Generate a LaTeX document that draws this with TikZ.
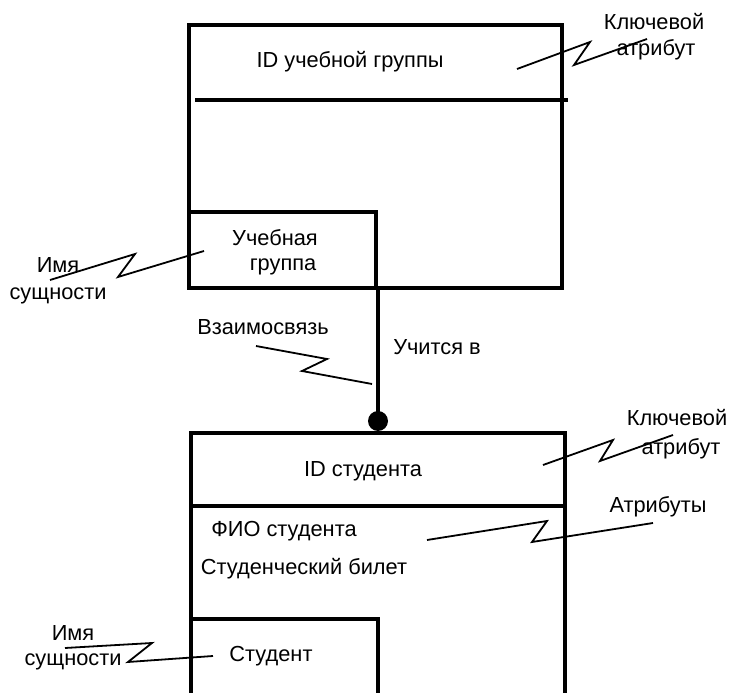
\documentclass[tikz,border=0pt]{standalone}
\usepackage{fontspec}
\setmainfont{Liberation Sans}
\begin{document}
\begin{tikzpicture}[x=1pt,y=-1pt,
  box/.style={line width=3.5pt},
  zig/.style={line width=1.8pt},
  lbl/.style={inner sep=0pt,font=\fontsize{21.8}{26}\selectfont},
  link/.style={line width=3.5pt}]
\useasboundingbox (0,0) rectangle (732,693);
% top entity
\draw[box] (189,25) rectangle (562,288);
\draw[box] (195,100) -- (568,100);
\draw[box] (189,212) -- (376,212) -- (376,288);
\node[lbl] (idg) at (350,62) {ID учебной группы};
\node[lbl] (g1) at (275,238) {Учебная};
\node[lbl] (g2) at (283,267) {группа};
% bottom entity
\draw[box] (191,700) -- (191,433) -- (565,433) -- (565,700);
\draw[box] (191,506) -- (565,506);
\draw[box] (191,619) -- (378,619) -- (378,700);
\node[lbl] (ids) at (363,471) {ID студента};
\node[lbl] (fio) at (284,531) {ФИО студента};
\node[lbl] (bil) at (304,569) {Студенческий билет};
\node[lbl] (st) at (271,656) {Студент};
% relationship
\coordinate (ctop) at (378,288);
\node[circle,fill=black,inner sep=0pt,minimum size=20pt] (dot) at (378,421) {};
\draw[link] (ctop) -- (dot.center);
\node[lbl] (rel) at (437,347) {Учится в};
% callouts
\node[lbl] (k1a) at (654,22) {Ключевой};
\node[lbl] (k1b) at (656,50) {атрибут};
\coordinate (z1) at (517,69);
\draw[zig] (z1) -- (590,42) -- (574,65) -- (647,39);
\node[lbl] (n1a) at (58,265) {Имя};
\node[lbl] (n1b) at (58,296) {сущности};
\coordinate (z2) at (204,251);
\draw[zig] (50,280) -- (135,254) -- (118,277) -- (z2);
\node[lbl] (vz) at (263,327) {Взаимосвязь};
\coordinate (z3) at (372,384);
\draw[zig] (256,346) -- (327,359) -- (302,371) -- (z3);
\node[lbl] (k2a) at (677,418) {Ключевой};
\node[lbl] (k2b) at (681,449) {атрибут};
\coordinate (z4) at (543,465);
\draw[zig] (z4) -- (613,440) -- (600,461) -- (673,435);
\node[lbl] (at) at (658,507) {Атрибуты};
\coordinate (z5) at (427,540);
\draw[zig] (z5) -- (547,521) -- (532,542) -- (653,523);
\node[lbl] (n2a) at (73,633) {Имя};
\node[lbl] (n2b) at (73,662) {сущности};
\coordinate (z6) at (213,656);
\draw[zig] (65,648) -- (152,643) -- (128,662) -- (z6);
\end{tikzpicture}
\end{document}
